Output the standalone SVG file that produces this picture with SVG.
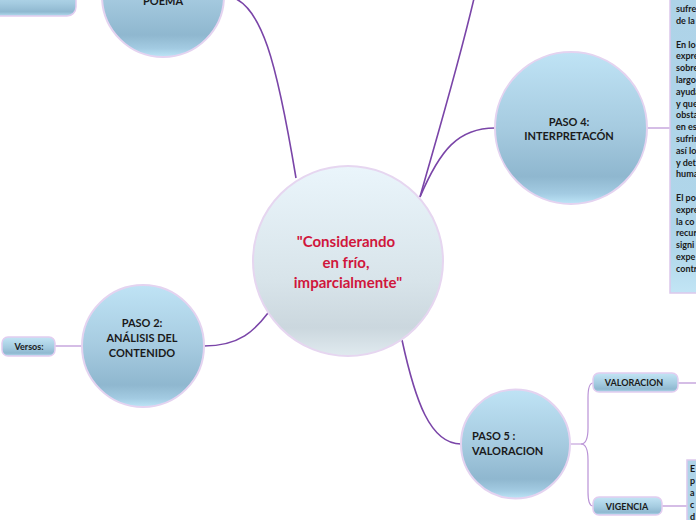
<svg xmlns="http://www.w3.org/2000/svg" width="696" height="520" viewBox="0 0 696 520">
  <defs>
    <linearGradient id="gCircle" x1="0" y1="0" x2="0" y2="1">
      <stop offset="0" stop-color="#bfe3f5"/>
      <stop offset="0.5" stop-color="#a6cbe0"/>
      <stop offset="0.82" stop-color="#8fb7cf"/>
      <stop offset="0.93" stop-color="#a3cbe2"/>
      <stop offset="1" stop-color="#bde5f7"/>
    </linearGradient>
    <linearGradient id="gCenter" x1="0" y1="0" x2="0" y2="1">
      <stop offset="0" stop-color="#eaf5fb"/>
      <stop offset="0.6" stop-color="#d8e4ea"/>
      <stop offset="0.85" stop-color="#cbd7de"/>
      <stop offset="1" stop-color="#e0eaef"/>
    </linearGradient>
    <linearGradient id="gBox" x1="0" y1="0" x2="0" y2="1">
      <stop offset="0" stop-color="#c3e5f5"/>
      <stop offset="0.55" stop-color="#a4cbe0"/>
      <stop offset="0.85" stop-color="#8fb8d0"/>
      <stop offset="1" stop-color="#b5dcef"/>
    </linearGradient>
    <linearGradient id="gText" x1="0" y1="0" x2="0" y2="1">
      <stop offset="0" stop-color="#aed3e8"/>
      <stop offset="0.85" stop-color="#b0d6ea"/>
      <stop offset="1" stop-color="#c2e5f5"/>
    </linearGradient>
    <style>
      .circle { fill: url(#gCircle); stroke: #e4d3f0; stroke-width: 2; }
      .center { fill: url(#gCenter); stroke: #e6d6f0; stroke-width: 2; }
      .box { fill: url(#gBox); stroke: #e2cdf0; stroke-width: 1.5; }
      .tbox { fill: url(#gText); stroke: #dcc8ec; stroke-width: 1.5; }
      .main { fill: none; stroke: #7a45a8; stroke-width: 1.6; }
      .sub { fill: none; stroke: #b992d6; stroke-width: 1.2; }
      .lbl { font-family: Lato, "Open Sans", "Liberation Sans", sans-serif; font-weight: bold; fill: #1a1a1a; }
      .c { text-anchor: middle; }
      .ctr { font-family: Lato, "Open Sans", "Liberation Sans", sans-serif; font-weight: bold; fill: #d0163c; font-size: 15px; text-anchor: middle; }
      .small { font-family: Lato, "Open Sans", "Liberation Sans", sans-serif; font-weight: bold; fill: #1a1a1a; font-size: 9px; }
    </style>
  </defs>

  <g id="connectors">
    <path class="main" d="M224,-4 C262,-4 278,70 296,178"/>
    <path class="main" d="M204,346 C240,346 255,330 268,313"/>
    <path class="main" d="M420,197 C436,140 460,60 476,-10"/>
    <path class="main" d="M420,197 C440,150 458,128 495,128"/>
    <path class="main" d="M402,340 C415,400 430,444 461,444"/>
    <path class="sub" d="M55,346 L82,346"/>
    <path class="sub" d="M647,128 L670,128"/>
    <path class="sub" d="M570,444 L581,444 C586,444 588,438 588,428 L588,398 C588,388 590,383 593,383"/>
    <path class="sub" d="M581,444 C586,444 588,450 588,460 L588,492 C588,502 590,506 593,506"/>
    <path class="sub" d="M678,383 L696,383"/>
    <path class="sub" d="M662,506 L687,506"/>
  </g>

  <g id="node-topleft">
    <rect class="box" x="-20" y="-12" width="96" height="28" rx="9"/>
  </g>

  <g id="node-poema">
    <circle class="circle" cx="163" cy="-4" r="61"/>
    <text class="lbl c" x="163" y="5" font-size="11">POEMA</text>
  </g>

  <g id="node-center">
    <circle class="center" cx="348" cy="261" r="95"/>
    <text class="ctr" x="346" y="247">"Considerando</text>
    <text class="ctr" x="346" y="268">en frío,</text>
    <text class="ctr" x="348" y="288">imparcialmente"</text>
  </g>

  <g id="node-paso2">
    <circle class="circle" cx="143" cy="346" r="61"/>
    <text class="lbl c" x="142" y="327" font-size="11">PASO 2:</text>
    <text class="lbl c" x="142" y="342" font-size="11">ANÁLISIS DEL</text>
    <text class="lbl c" x="142" y="357" font-size="11">CONTENIDO</text>
  </g>

  <g id="node-versos">
    <rect class="box" x="2" y="337" width="53" height="19" rx="6"/>
    <text class="lbl c" x="29" y="349.5" font-size="9">Versos:</text>
  </g>

  <g id="node-paso4">
    <circle class="circle" cx="571" cy="128" r="76"/>
    <text class="lbl c" x="569" y="126" font-size="11">PASO 4:</text>
    <text class="lbl c" x="569" y="140" font-size="11">INTERPRETACÓN</text>
  </g>

  <g id="node-text-right">
    <rect class="tbox" x="670" y="-10" width="40" height="303"/>
    <text class="small" x="676" y="12">sufre</text>
    <text class="small" x="676" y="24">de la</text>
    <text class="small" x="676" y="47.5">En lo</text>
    <text class="small" x="676" y="59.3">expre</text>
    <text class="small" x="676" y="71.1">sobre</text>
    <text class="small" x="676" y="82.9">largo</text>
    <text class="small" x="676" y="94.7">ayuda</text>
    <text class="small" x="676" y="106.5">y que</text>
    <text class="small" x="676" y="118.3">obsta</text>
    <text class="small" x="676" y="130.1">en es</text>
    <text class="small" x="676" y="141.9">sufrim</text>
    <text class="small" x="676" y="153.7">así lo</text>
    <text class="small" x="676" y="165.5">y det</text>
    <text class="small" x="676" y="177.3">huma</text>
    <text class="small" x="676" y="200.9">El po</text>
    <text class="small" x="676" y="212.7">expre</text>
    <text class="small" x="676" y="224.5">la co</text>
    <text class="small" x="676" y="236.3">recur</text>
    <text class="small" x="676" y="248.1">signi</text>
    <text class="small" x="676" y="259.9">expe</text>
    <text class="small" x="676" y="271.7">contr</text>
  </g>

  <g id="node-paso5">
    <circle class="circle" cx="515.5" cy="444" r="54.5"/>
    <text class="lbl" x="472" y="440" font-size="11">PASO 5 :</text>
    <text class="lbl" x="472" y="455" font-size="11">VALORACION</text>
  </g>

  <g id="node-valoracion">
    <rect class="box" x="593" y="373" width="85" height="19" rx="6"/>
    <text class="lbl c" x="634" y="386" font-size="9">VALORACION</text>
  </g>

  <g id="node-vigencia">
    <rect class="box" x="593" y="497" width="69" height="18" rx="6"/>
    <text class="lbl c" x="627" y="509.5" font-size="9">VIGENCIA</text>
  </g>

  <g id="node-text-bottom">
    <rect class="tbox" x="687" y="460" width="20" height="70"/>
    <text class="small" x="690" y="472">E</text>
    <text class="small" x="690" y="484">p</text>
    <text class="small" x="690" y="496">a</text>
    <text class="small" x="690" y="508">c</text>
    <text class="small" x="690" y="520">d</text>
  </g>
</svg>
